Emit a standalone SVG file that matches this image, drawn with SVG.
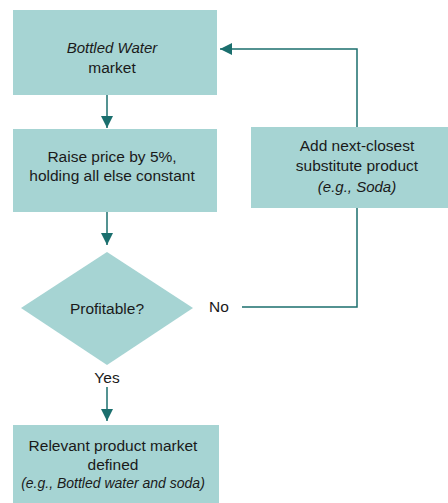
<svg xmlns="http://www.w3.org/2000/svg" width="448" height="503" viewBox="0 0 448 503">
<style>
.box{fill:#a6d4d3}
.t{font-family:"Liberation Sans",Arial,sans-serif;font-size:15.5px;fill:#1a1a1a;text-anchor:middle}
.i{font-style:italic;font-size:15px}
.c{fill:none;stroke:#1b6f6e;stroke-width:1.5}
</style>
<defs>
<marker id="ah" markerWidth="12" markerHeight="12" refX="12" refY="6" orient="auto" markerUnits="userSpaceOnUse">
<path d="M0,0 L12,6 L0,12 Z" fill="#1b6f6e"/>
</marker>
</defs>
<rect width="448" height="503" fill="#fff"/>
<g id="connectors">
<path class="c" d="M107,95 V128" marker-end="url(#ah)"/>
<path class="c" d="M107,212 V245" marker-end="url(#ah)"/>
<path class="c" d="M107,387 V421" marker-end="url(#ah)"/>
<path class="c" d="M242,307 H357 V208"/>
<path class="c" d="M357,127 V49 H220" marker-end="url(#ah)"/>
</g>
<g id="n1">
<rect class="box" x="13" y="10" width="204" height="85"/>
<text class="t i" x="112" y="53">Bottled Water</text>
<text class="t" x="112" y="73">market</text>
</g>
<g id="n2">
<rect class="box" x="13" y="129" width="204" height="83"/>
<text class="t" x="112" y="162">Raise price by 5%,</text>
<text class="t" x="112" y="181">holding all else constant</text>
</g>
<g id="n3">
<polygon class="box" points="107,252 193,308 107,365 21,308"/>
<text class="t" x="107" y="314">Profitable?</text>
</g>
<g id="n4">
<rect class="box" x="251" y="127" width="197" height="81"/>
<text class="t" x="357" y="151">Add next-closest</text>
<text class="t" x="357" y="171">substitute product</text>
<text class="t i" x="357" y="192">(e.g., Soda)</text>
</g>
<g id="n5">
<rect class="box" x="13" y="425" width="206" height="78"/>
<text class="t" x="113" y="451">Relevant product market</text>
<text class="t" x="113" y="470">defined</text>
<text class="t i" x="113" y="488" style="font-size:14px">(e.g., Bottled water and soda)</text>
</g>
<g id="labels">
<text class="t" x="219" y="312">No</text>
<text class="t" x="107" y="383">Yes</text>
</g>
</svg>
